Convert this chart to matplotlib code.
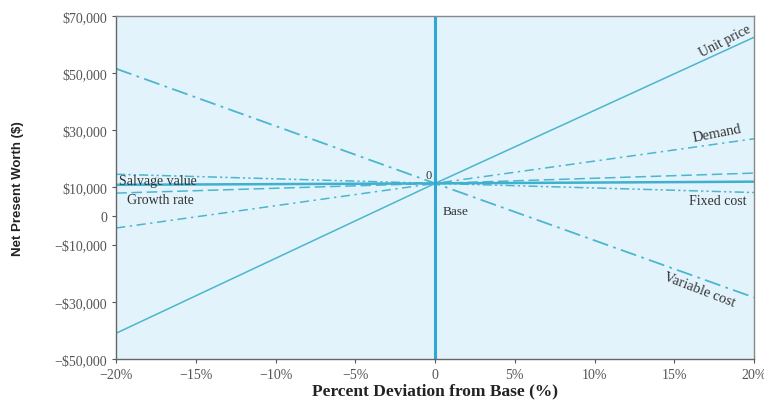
import matplotlib
matplotlib.use("Agg")
import matplotlib.pyplot as plt

# percent deviation points and NPW ($)
pct = [-20, 0, 20]
unit_price = [-41000, 11400, 62500]
variable_cost = [51500, 11400, -28500]
demand = [-4200, 11400, 27000]
fixed_cost = [14600, 11400, 8200]
growth_rate = [8000, 11400, 15000]
salvage_value = [10900, 11400, 12000]

yticks = [70000, 50000, 30000, 10000, 0, -10000, -30000, -50000]
ytick_labels = ["$70,000", "$50,000", "$30,000", "$10,000", "0",
                "\u2212$10,000", "\u2212$30,000", "\u2212$50,000"]
xticks = [-20, -15, -10, -5, 0, 5, 10, 15, 20]
xtick_labels = ["\u221220%", "\u221215%", "\u221210%", "\u22125%", "0",
                "5%", "10%", "15%", "20%"]

plt.rcParams['font.family'] = ['Liberation Serif', 'DejaVu Serif']

fig = plt.figure(figsize=(7.64, 4.10), dpi=100)
ax = fig.add_axes([0.152, 0.122, 0.835, 0.837])
ax.set_facecolor("#e2f3fc")

lc = "#4cb6cc"
ax.plot(pct, unit_price, color=lc, lw=1.1)
ax.plot(pct, variable_cost, color=lc, lw=1.3, dashes=(9, 3, 1.5, 3))
ax.plot(pct, demand, color=lc, lw=1.1, dashes=(6, 3, 1.5, 3))
ax.plot(pct, fixed_cost, color=lc, lw=1.1, dashes=(6, 2, 1.5, 2, 1.5, 2))
ax.plot(pct, growth_rate, color=lc, lw=1.1, dashes=(7, 3))
ax.plot(pct, salvage_value, color="#3fb0cf", lw=1.8)
ax.axvline(0, color="#2fa8d6", lw=2.2)

tc = "#333333"
ax.text(18.2, 61500, "Unit price", rotation=27, fontsize=10, color=tc, ha="center", va="center")
ax.text(17.7, 29000, "Demand", rotation=11, fontsize=10.5, color=tc, ha="center", va="center")
ax.text(16.6, -25500, "Variable cost", rotation=-21, fontsize=10.5, color=tc, ha="center", va="center")
ax.text(17.7, 5500, "Fixed cost", fontsize=10, color=tc, ha="center", va="center")
ax.text(-19.8, 12300, "Salvage value", fontsize=10, color=tc, ha="left", va="center")
ax.text(-19.3, 5600, "Growth rate", fontsize=10, color=tc, ha="left", va="center")
ax.text(-0.4, 14200, "0", fontsize=9, color=tc, ha="center", va="center")
ax.text(0.5, 1800, "Base", fontsize=9.5, color=tc, ha="left", va="center")

ax.set_xlim(-20, 20)
ax.set_ylim(-50000, 70000)
ax.set_yticks(yticks)
ax.set_yticklabels(ytick_labels)
ax.set_xticks(xticks)
ax.set_xticklabels(xtick_labels)
ax.tick_params(labelsize=10, colors="#555555", length=3, width=0.8)

for s in ax.spines.values():
    s.set_color("#888888")
    s.set_linewidth(1.0)
ax.spines["left"].set_color("#666666")
ax.spines["bottom"].set_color("#666666")

ax.set_xlabel("Percent Deviation from Base (%)", fontsize=12.5, fontweight="bold", color="#222222", labelpad=1)
ax.set_ylabel("Net Present Worth ($)", fontsize=9.5, fontweight="bold", color="#222222",
              family=["Liberation Sans Narrow", "Liberation Sans", "DejaVu Sans"], labelpad=22)

fig.savefig("out.png", dpi=100)
